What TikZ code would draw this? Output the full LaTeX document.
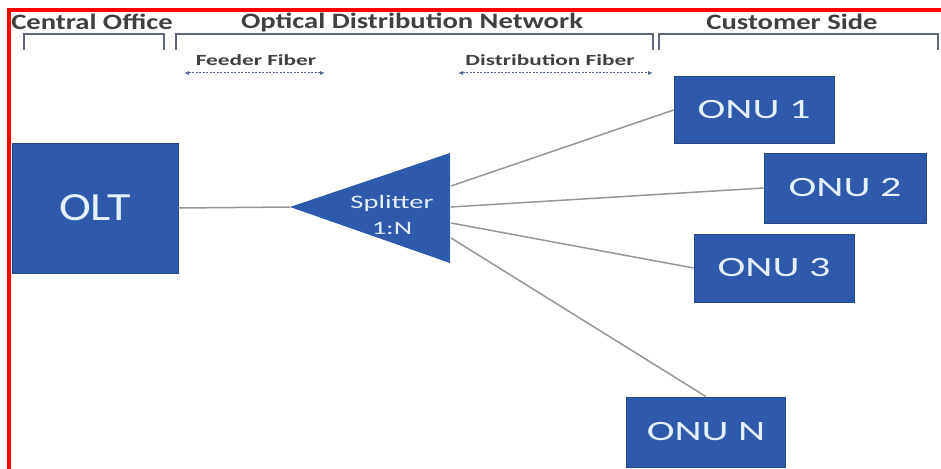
\documentclass[tikz,border=0pt]{standalone}
\usepackage{fontspec}
\setmainfont{Carlito}
\newfontfamily\zonefont[FakeStretch=1.3]{Carlito}
\newfontfamily\widefont[FakeStretch=1.5]{Carlito}
\newfontfamily\oltfont[FakeStretch=1.2]{Carlito}
\usetikzlibrary{arrows.meta}

\definecolor{boxBlue}{RGB}{46,90,172}
\definecolor{boxEdge}{RGB}{38,70,135}
\definecolor{labelGray}{RGB}{64,64,64}
\definecolor{bracketGray}{RGB}{95,104,125}
\definecolor{fiberGray}{RGB}{150,150,150}
\definecolor{arrowBlue}{RGB}{80,100,140}
\definecolor{boxText}{RGB}{228,240,250}

\tikzset{
    unitbox/.style={draw=boxEdge, line width=0.8pt, fill=boxBlue, text=boxText,
        inner sep=0pt, font=\widefont\fontsize{28}{30}\selectfont},
    zonelabel/.style={text=labelGray, font=\zonefont\bfseries\fontsize{22}{24}\selectfont},
    fiberlabel/.style={text=labelGray, font=\widefont\bfseries\fontsize{15.5}{17}\selectfont},
    bracket/.style={draw=bracketGray, line width=2pt},
    fiber/.style={draw=fiberGray, line width=1.5pt},
    span/.style={draw=arrowBlue, line width=1pt, dash pattern=on 2pt off 1.5pt,
        {Latex[length=5pt,width=4pt]}-{Latex[length=5pt,width=4pt]}}
}

\begin{document}
\begin{tikzpicture}[x=1pt, y=-1pt]
    \useasboundingbox (0,0) rectangle (941,468);

    % Frame (only left and top edges fall inside the picture)
    \draw[red, line width=4pt] (9,470) -- (9,10.5) -- (945,10.5);

    % Define the positions of the zones
    \coordinate (coPos) at (92,22);
    \coordinate (odnPos) at (412,22);
    \coordinate (custPos) at (792,22);

    % Draw the zone labels
    \node[zonelabel] (coLabel) at (coPos) {Central Office};
    \node[zonelabel] (odnLabel) at (odnPos) {Optical Distribution Network};
    \node[zonelabel] (custLabel) at (custPos) {Customer Side};

    % Draw the brackets
    \draw[bracket] (24,50) -- (24,34) -- (164,34) -- (164,50);
    \draw[bracket] (176,50) -- (176,34) -- (653,34) -- (653,50);
    \draw[bracket] (659,50) -- (659,34) -- (938,34) -- (938,50);

    % Fiber spans
    \node[fiberlabel] (feederLabel) at (256,60) {Feeder Fiber};
    \node[fiberlabel] (distLabel) at (550,60) {Distribution Fiber};
    \coordinate (feederA) at (184,73);
    \coordinate (feederB) at (325,73);
    \coordinate (distA) at (458,73);
    \coordinate (distB) at (653,73);
    \draw[span] (feederA) -- (feederB);
    \draw[span] (distA) -- (distB);

    % Draw the OLT
    \node[unitbox, minimum width=166pt, minimum height=130pt,
        font=\oltfont\fontsize{40}{42}\selectfont] (olt) at (95,208) {OLT};

    % Draw the splitter
    \coordinate (splitTip) at (290,207);
    \coordinate (splitTop) at (450,153);
    \coordinate (splitBot) at (450,263);
    \fill[boxBlue] (splitTip) -- (splitTop) -- (splitBot) -- cycle;
    \node[text=boxText, align=center, font=\widefont\fontsize{19}{26}\selectfont]
        (splitLabel) at (392,215) {Splitter\\1:N};

    % Draw the ONUs
    \node[unitbox, minimum width=160pt, minimum height=67pt] (onu1) at (754,110) {ONU 1};
    \node[unitbox, minimum width=162pt, minimum height=70pt] (onu2) at (845,188) {ONU 2};
    \node[unitbox, minimum width=160pt, minimum height=68pt] (onu3) at (774,268) {ONU 3};
    \node[unitbox, minimum width=159pt, minimum height=70pt] (onuN) at (706,432) {ONU N};

    % Draw the fibers
    \coordinate (port1) at (451,186);
    \coordinate (port2) at (451,207);
    \coordinate (port3) at (451,223);
    \coordinate (portN) at (451,238);
    \draw[fiber] (olt.east) -- (splitTip);
    \draw[fiber] (port1) -- (onu1.west);
    \draw[fiber] (port2) -- (onu2.west);
    \draw[fiber] (port3) -- (onu3.west);
    \draw[fiber] (portN) -- (onuN.north);
\end{tikzpicture}
\end{document}
